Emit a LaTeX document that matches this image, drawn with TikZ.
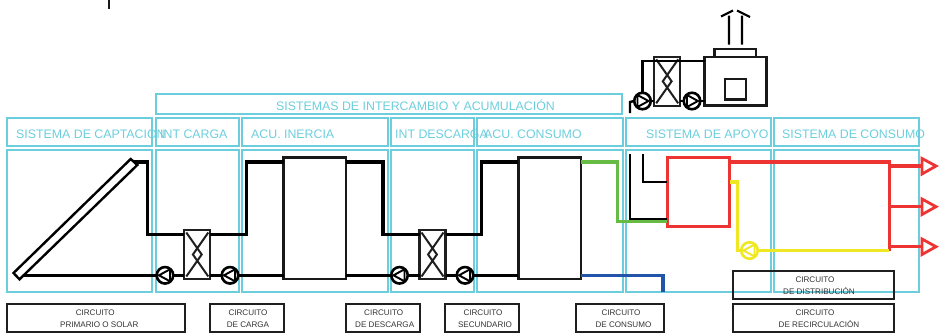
\documentclass[tikz,border=0pt]{standalone}
\usepackage{fontspec}
\setmainfont{Liberation Sans}
\usetikzlibrary{calc}
\definecolor{cy}{HTML}{6CCEDD}
\definecolor{rd}{HTML}{EE3333}
\definecolor{yl}{HTML}{EEE722}
\definecolor{gr}{HTML}{66BB44}
\definecolor{bl}{HTML}{2255AA}
\definecolor{tx}{HTML}{333333}
\tikzset{
  x=1pt,y=-1pt,
  sysbox/.style={draw=cy,line width=2pt,inner sep=0,outer sep=0},
  systext/.style={text=cy,font=\fontsize{12.35}{14}\selectfont,anchor=base west,inner sep=0},
  circbox/.style={draw=black!88,line width=2pt,inner sep=0,outer sep=0},
  circtext/.style={text=tx,font=\fontsize{8.1}{12}\selectfont,align=center,inner sep=0},
  tankbox/.style={draw=black!90,line width=2.4pt,inner sep=0,outer sep=0},
  redbox/.style={draw=rd,line width=3pt,inner sep=0,outer sep=0},
  pipe/.style={draw=black,line width=3.05pt,line join=miter},
  thin pipe/.style={draw=black,line width=2.1pt},
  hx/.style={draw=black!88,line width=2.3pt,inner sep=0,outer sep=0,minimum width=26pt,minimum height=49pt,
    path picture={\draw[line width=2pt,shift={(path picture bounding box.center)}]
      (-11,-22)--(4.4,0)--(-11,22) (11,-22)--(-4.4,0)--(11,22);}},
  pumpL/.style={circle,draw=#1,fill=white,line width=2.6pt,inner sep=0,outer sep=0,minimum size=16.5pt,
    path picture={\draw[#1,line width=1.9pt,shift={(path picture bounding box.center)}]
      (5,-6)--(-6,0)--(5,6)--cycle;}},
  pumpR/.style={circle,draw=#1,fill=white,line width=2.6pt,inner sep=0,outer sep=0,minimum size=16.5pt,
    path picture={\draw[#1,line width=1.9pt,shift={(path picture bounding box.center)}]
      (-5,-6)--(6,0)--(-5,6)--cycle;}},
  outlet/.style={draw=rd,line width=2.8pt,fill=white,line join=miter},
}
\newcommand\rbox[6]{\node[#6,minimum width={#4-#2},minimum height={#5-#3}] (#1) at ({(#2+#4)/2},{(#3+#5)/2}) {};}
\begin{document}
\begin{tikzpicture}
\useasboundingbox (0,0) rectangle (943,333);
% levels and channels
\coordinate (top) at (0,162);
\coordinate (mid) at (0,234.5);
\coordinate (bot) at (0,275.3);
\coordinate (chA) at (147.5,0);
\coordinate (chB) at (246.5,0);
\coordinate (chC) at (383,0);
\coordinate (chD) at (481.5,0);
\coordinate (chE) at (617.5,0);
\coordinate (chF) at (737.5,0);
\coordinate (chG) at (889.3,0);
% system frames
\rbox{grp}{156}{93.5}{621.5}{113.5}{sysbox}
\rbox{hA}{7}{117.5}{152}{146}{sysbox}
\rbox{hB}{156}{117.5}{239}{146}{sysbox}
\rbox{hC}{242}{117.5}{387.5}{146}{sysbox}
\rbox{hD}{391}{117.5}{473.5}{146}{sysbox}
\rbox{hE}{477}{117.5}{622.5}{146}{sysbox}
\rbox{hF}{626}{117.5}{770.5}{146}{sysbox}
\rbox{hG}{774}{117.5}{919}{146}{sysbox}
\rbox{bA}{7}{150}{152}{291.5}{sysbox}
\rbox{bB}{156}{150}{239}{291.5}{sysbox}
\rbox{bC}{242}{150}{387.5}{291.5}{sysbox}
\rbox{bD}{391}{150}{473.5}{291.5}{sysbox}
\rbox{bE}{477}{150}{622.5}{291.5}{sysbox}
\rbox{bF}{626}{150}{770.5}{291.5}{sysbox}
\rbox{bG}{774}{150}{919}{291.5}{sysbox}
\node[systext] (tgrp) at (276,110) {SISTEMAS DE INTERCAMBIO Y ACUMULACIÓN};
\node[systext] (tA) at (16,138) {SISTEMA DE CAPTACIÓN};
\node[systext] (tB) at (160,138) {INT CARGA};
\node[systext] (tC) at (251,138) {ACU. INERCIA};
\node[systext] (tD) at (395,138) {INT DESCARGA};
\node[systext] (tE) at (484,138) {ACU. CONSUMO};
\node[systext] (tF) at (646,138) {SISTEMA DE APOYO};
\node[systext] (tG) at (782,138) {SISTEMA DE CONSUMO};
% tick
\coordinate (tk1) at (109,0);
\coordinate (tk2) at (109,8.5);
\draw[black!90,line width=1.6pt] (tk1)--(tk2);
% collector
\coordinate (c1) at (13.5,273);
\coordinate (c2) at (19.5,279.3);
\coordinate (c3) at (137.3,165);
\coordinate (c4) at (130.7,159);
\coordinate (colT) at (134,162);
\coordinate (colB) at (20,275.3);
% equipment
\rbox{tank1}{283.5}{157.3}{346}{279}{tankbox}
\rbox{tank2}{518.3}{157.3}{581}{279}{tankbox}
\node[hx] (hx1) at (197.3,254.5) {};
\node[hx] (hx2) at (432.5,254.5) {};
\node[hx] (hx3) at (667.2,81.3) {};
\node[pumpL=black] (p1) at (165,275.3) {};
\node[pumpL=black] (p2) at (230,275.3) {};
\node[pumpL=black] (p3) at (399.5,275.3) {};
\node[pumpL=black] (p4) at (465,275.3) {};
\node[pumpR=black] (p5) at (642.5,101) {};
\node[pumpR=black] (p6) at (692,101) {};
\rbox{boiler}{704.5}{57}{766.3}{105.5}{tankbox}
\rbox{door}{725}{79}{745.8}{99.5}{tankbox}
\rbox{flue}{714.3}{49}{756}{57}{tankbox}
% pipes
\draw[pipe] (colT) -| (chA |- mid) -- (hx1.west |- mid);
\draw[pipe] (colB) -- (p1.west);
\draw[pipe] (p1.east) -- (hx1.west |- bot);
\draw[pipe] (hx1.east |- bot) -- (p2.west);
\draw[pipe] (p2.east) -- (tank1.west |- bot);
\draw[pipe] (hx1.east |- mid) -| (chB |- top) -- (tank1.west |- top);
\draw[pipe] (tank1.east |- top) -| (chC |- mid) -- (hx2.west |- mid);
\draw[pipe] (tank1.east |- bot) -- (p3.west);
\draw[pipe] (p3.east) -- (hx2.west |- bot);
\draw[pipe] (hx2.east |- bot) -- (p4.west);
\draw[pipe] (p4.east) -- (tank2.west |- bot);
\draw[pipe] (hx2.east |- mid) -| (chD |- top) -- (tank2.west |- top);
% collector body
\draw[black,line width=2.4pt,fill=white,line join=miter] (c1)--(c2)--(c3)--(c4)--cycle;
% boiler circuit
\coordinate (hp) at (0,61);
\coordinate (fa) at (630,113);
\coordinate (fb) at (630,102);
\draw[pipe,line width=2.4pt] (p5.north) |- (boiler.west |- hp);
\draw[pipe,line width=2.4pt] (fa) -- (fb) -- (p5.west);
\draw[pipe,line width=2.4pt] (p5.east) -- (hx3.west |- p5);
\draw[pipe,line width=2.4pt] (hx3.east |- p6) -- (p6.west);
\draw[pipe,line width=2.4pt] (p6.east) -- (boiler.west |- p6);
% chimney
\coordinate (ch1a) at (729,44.5);
\coordinate (ch1b) at (729,15.5);
\coordinate (ch2a) at (742,44.5);
\coordinate (ch2b) at (742,15.5);
\coordinate (ar1a) at (721,16.5);
\coordinate (ar1b) at (733,10.5);
\coordinate (ar2a) at (737,10.5);
\coordinate (ar2b) at (750,17);
\draw[black,line width=2.1pt] (ch1a)--(ch1b) (ch2a)--(ch2b) (ar1a)--(ar1b) (ar2a)--(ar2b);
% auxiliary system
\rbox{aux}{667.3}{157.7}{729.5}{226.7}{redbox}
\coordinate (bk1) at (630,154);
\coordinate (bk2) at (643,154);
\draw[thin pipe,line join=miter] (bk1) |- (aux.west |- 0,219);
\draw[thin pipe,line join=miter] (bk2) |- (aux.west |- 0,182);
\draw[gr,line width=3.05pt,line join=miter] (tank2.east |- top) -| (chE |- 0,221.7) -- (aux.west |- 0,221.7);
\coordinate (blEnd) at (663,291.5);
\draw[bl,line width=3.05pt,line join=miter] (tank2.east |- bot) -| (blEnd);
% consumption
\node[pumpL=yl] (p7) at (749.5,250.5) {};
\draw[rd,line width=3.1pt] (aux.east |- top) -| (chG |- 0,250.5);
\coordinate (o1) at (922,166);
\coordinate (o2) at (922,206.7);
\coordinate (o3) at (922,246.7);
\draw[rd,line width=3.1pt] (chG |- o1) -- (o1);
\draw[rd,line width=3.1pt] (chG |- o2) -- (o2);
\draw[rd,line width=3.1pt] (chG |- o3) -- (o3);
\draw[outlet] (922,158.5)--(936,166)--(922,174)--cycle;
\draw[outlet] (922,199)--(936,206.7)--(922,214.5)--cycle;
\draw[outlet] (922,239)--(936,246.7)--(922,254.5)--cycle;
\draw[yl,line width=3.05pt,line join=miter] (aux.east |- 0,182) -| (chF |- p7) -- (p7.west);
\draw[yl,line width=3.05pt] (p7.east) -- (chG |- p7);
% circuit boxes
\rbox{cA}{7}{303.5}{185}{331.7}{circbox}
\rbox{cB}{209.5}{303.5}{284}{331.7}{circbox}
\rbox{cC}{346}{303.5}{420}{331.7}{circbox}
\rbox{cD}{444.5}{303.5}{519}{331.7}{circbox}
\rbox{cE}{576}{303.5}{663.5}{331.7}{circbox}
\rbox{cF}{733}{271}{894}{299}{circbox}
\rbox{cG}{733}{303.5}{894}{331.7}{circbox}
\node[circtext] (lA) at (99.3,319) {CIRCUITO\hspace*{8pt}\\PRIMARIO O SOLAR};
\node[circtext] (lB) at (248,319) {CIRCUITO\\DE CARGA};
\node[circtext] (lC) at (384.7,319) {CIRCUITO\hspace*{2pt}\\DE DESCARGA};
\node[circtext] (lD) at (485,319) {CIRCUITO\hspace*{4pt}\\SECUNDARIO};
\node[circtext] (lE) at (623.5,319) {CIRCUITO\hspace*{5pt}\\DE CONSUMO};
\node[circtext] (lF) at (819,286) {CIRCUITO\hspace*{8pt}\\DE DISTRIBUCIÓN};
\node[circtext] (lG) at (819,319) {CIRCUITO\hspace*{8pt}\\DE RECIRCULACIÓN};
\end{tikzpicture}
\end{document}
